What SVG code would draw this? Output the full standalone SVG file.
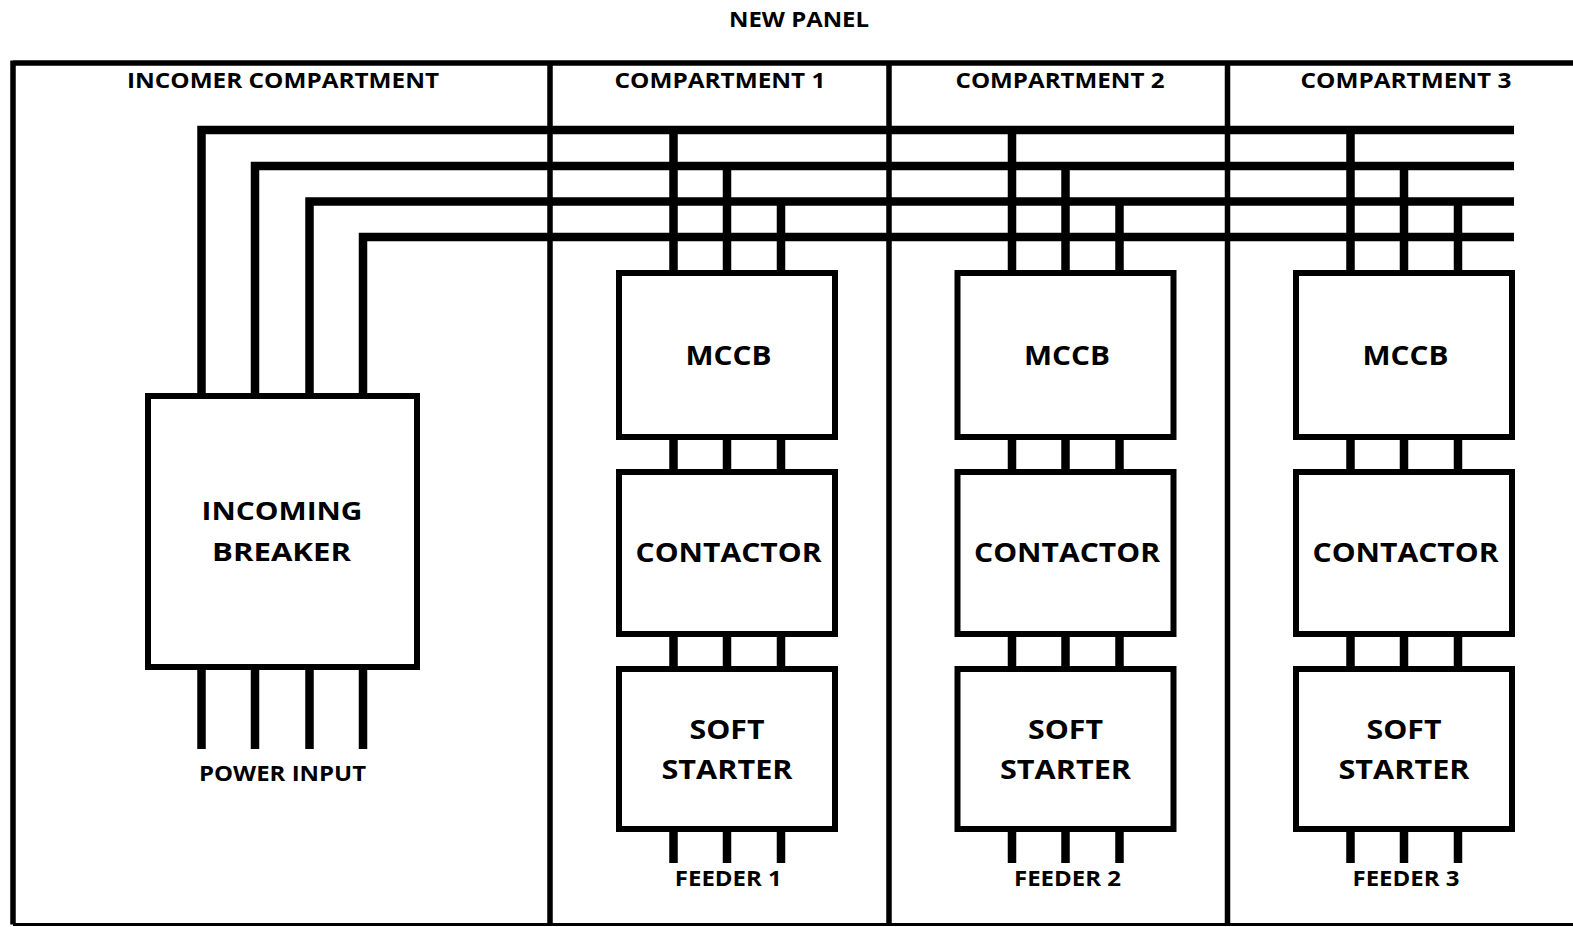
<svg xmlns="http://www.w3.org/2000/svg" width="1573" height="927" viewBox="0 0 1573 927">
<style>
.t{font-family:"Open Sans","Liberation Sans",sans-serif;font-weight:700;fill:#000;text-anchor:middle}
.h{font-size:21px}
.b{font-size:27px}
.s{font-size:25px}
.box{fill:#fff;stroke:#000;stroke-width:6}
.w{fill:none;stroke:#000;stroke-width:8.5;stroke-linejoin:miter;stroke-linecap:butt}
.f{fill:none;stroke:#000;stroke-width:5.5;stroke-linecap:butt}
</style>
<rect width="1573" height="927" fill="#fff"/>
<text class="t h" x="799" y="27" textLength="140" lengthAdjust="spacingAndGlyphs">NEW PANEL</text>
<g id="frame">
<path class="f" d="M13 63 H1573 M13 60.5 V924.5"/>
<path fill="none" stroke="#000" stroke-width="3" d="M13 924.5 H1573"/>
<path class="f" d="M550 63 V924.5 M889 63 V924.5 M1227.5 63 V924.5"/>
<text class="t h" x="283" y="88" textLength="312" lengthAdjust="spacingAndGlyphs">INCOMER COMPARTMENT</text>
<text class="t h" x="720" y="88" textLength="211" lengthAdjust="spacingAndGlyphs">COMPARTMENT 1</text>
<text class="t h" x="1060" y="88" textLength="209" lengthAdjust="spacingAndGlyphs">COMPARTMENT 2</text>
<text class="t h" x="1406" y="88" textLength="211" lengthAdjust="spacingAndGlyphs">COMPARTMENT 3</text>
</g>
<g id="connectors">
<path class="w" d="M201.5 396 V130 H1514 M255 396 V166 H1514 M309.5 396 V201.5 H1514 M363 396 V237 H1514"/>
<path class="w" d="M201.5 667 V749 M255 667 V749 M309.5 667 V749 M363 667 V749"/>
<path class="w" d="M673.5 130 V273 M727 166 V273 M781 201.5 V273 M673.5 437 V472 M727 437 V472 M781 437 V472 M673.5 634 V669 M727 634 V669 M781 634 V669 M673.5 829 V863 M727 829 V863 M781 829 V863"/>
<path class="w" d="M1012 130 V273 M1065.5 166 V273 M1119.5 201.5 V273 M1012 437 V472 M1065.5 437 V472 M1119.5 437 V472 M1012 634 V669 M1065.5 634 V669 M1119.5 634 V669 M1012 829 V863 M1065.5 829 V863 M1119.5 829 V863"/>
<path class="w" d="M1350.5 130 V273 M1404 166 V273 M1458 201.5 V273 M1350.5 437 V472 M1404 437 V472 M1458 437 V472 M1350.5 634 V669 M1404 634 V669 M1458 634 V669 M1350.5 829 V863 M1404 829 V863 M1458 829 V863"/>
</g>
<g id="incoming-breaker">
<rect class="box" x="148" y="396" width="269" height="271"/>
<text class="t s" x="282" y="519.5" textLength="161" lengthAdjust="spacingAndGlyphs">INCOMING</text>
<text class="t s" x="281.5" y="560.5" textLength="139" lengthAdjust="spacingAndGlyphs">BREAKER</text>
</g>
<g id="power-input">
<text class="t h" x="282.5" y="781" textLength="167" lengthAdjust="spacingAndGlyphs">POWER INPUT</text>
</g>
<g id="mccb-1">
<rect class="box" x="619" y="273" width="216" height="164"/>
<text class="t b" x="728.5" y="365" textLength="86" lengthAdjust="spacingAndGlyphs">MCCB</text>
</g>
<g id="contactor-1">
<rect class="box" x="619" y="472" width="216" height="162"/>
<text class="t b" x="728.5" y="562" textLength="186" lengthAdjust="spacingAndGlyphs">CONTACTOR</text>
</g>
<g id="soft-starter-1">
<rect class="box" x="619" y="669" width="216" height="160"/>
<text class="t b" x="727" y="738.5" textLength="75" lengthAdjust="spacingAndGlyphs">SOFT</text>
<text class="t b" x="727" y="779" textLength="131" lengthAdjust="spacingAndGlyphs">STARTER</text>
</g>
<g id="feeder-1">
<text class="t h" x="728.3" y="886" textLength="107" lengthAdjust="spacingAndGlyphs">FEEDER 1</text>
</g>
<g id="mccb-2">
<rect class="box" x="957.5" y="273" width="216" height="164"/>
<text class="t b" x="1067" y="365" textLength="86" lengthAdjust="spacingAndGlyphs">MCCB</text>
</g>
<g id="contactor-2">
<rect class="box" x="957.5" y="472" width="216" height="162"/>
<text class="t b" x="1067" y="562" textLength="186" lengthAdjust="spacingAndGlyphs">CONTACTOR</text>
</g>
<g id="soft-starter-2">
<rect class="box" x="957.5" y="669" width="216" height="160"/>
<text class="t b" x="1065.5" y="738.5" textLength="75" lengthAdjust="spacingAndGlyphs">SOFT</text>
<text class="t b" x="1065.5" y="779" textLength="131" lengthAdjust="spacingAndGlyphs">STARTER</text>
</g>
<g id="feeder-2">
<text class="t h" x="1067.5" y="886" textLength="107" lengthAdjust="spacingAndGlyphs">FEEDER 2</text>
</g>
<g id="mccb-3">
<rect class="box" x="1296" y="273" width="216" height="164"/>
<text class="t b" x="1405.5" y="365" textLength="86" lengthAdjust="spacingAndGlyphs">MCCB</text>
</g>
<g id="contactor-3">
<rect class="box" x="1296" y="472" width="216" height="162"/>
<text class="t b" x="1405.5" y="562" textLength="186" lengthAdjust="spacingAndGlyphs">CONTACTOR</text>
</g>
<g id="soft-starter-3">
<rect class="box" x="1296" y="669" width="216" height="160"/>
<text class="t b" x="1404" y="738.5" textLength="75" lengthAdjust="spacingAndGlyphs">SOFT</text>
<text class="t b" x="1404" y="779" textLength="131" lengthAdjust="spacingAndGlyphs">STARTER</text>
</g>
<g id="feeder-3">
<text class="t h" x="1406" y="886" textLength="107" lengthAdjust="spacingAndGlyphs">FEEDER 3</text>
</g>
</svg>
